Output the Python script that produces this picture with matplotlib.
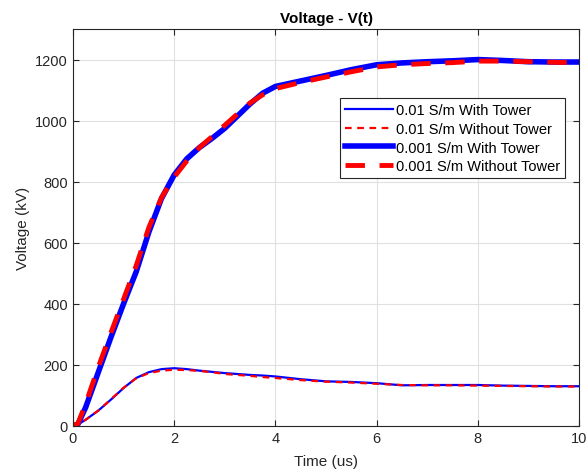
import matplotlib
matplotlib.use('Agg')
import matplotlib.pyplot as plt

plt.rcParams['font.family'] = ['Liberation Sans', 'DejaVu Sans']

# time axis (us)
t = [0, 0.1, 0.25, 0.5, 0.75, 1.0, 1.25, 1.5, 1.75, 2.0, 2.25, 2.5, 2.75, 3.0, 3.25,
     3.5, 3.75, 4.0, 4.5, 5.0, 5.5, 6.0, 6.5, 7.0, 7.5, 8.0, 8.5, 9.0, 9.5, 10.0]

# 0.01 S/m
v_01_with = [0, 5, 20, 50, 86, 124, 157, 176, 186, 189, 186, 181, 177, 173, 170,
             167, 165, 162, 153, 146, 144, 140, 133, 134, 134, 134, 132, 131, 130, 130]
v_01_without = [0, 5, 20, 50, 87, 125, 156, 173, 181, 184, 183, 180, 176, 170, 167,
                164, 160, 157, 150, 145, 142, 138, 134, 133, 133, 132, 131, 130, 129, 129]

# 0.001 S/m
v_001_with = [0, 6, 60, 175, 290, 400, 505, 635, 745, 822, 875, 912, 942, 975, 1015,
              1055, 1090, 1112, 1130, 1148, 1167, 1183, 1189, 1193, 1196, 1200, 1197, 1193, 1192, 1192]
v_001_without = [0, 8, 72, 192, 305, 415, 525, 650, 748, 815, 868, 912, 948, 985, 1022,
                 1058, 1085, 1105, 1125, 1143, 1160, 1176, 1183, 1187, 1190, 1195, 1195, 1193, 1191, 1190]

fig = plt.figure(figsize=(5.88, 4.77), dpi=100)
ax = fig.add_axes([0.124, 0.105, 0.861, 0.832])

ax.plot(t, v_01_with, color='#0000ff', lw=1.6, label='0.01 S/m With Tower')
ax.plot(t, v_01_without, color='#ff0000', lw=1.6, ls=(0, (3, 2.5)), label='0.01 S/m Without Tower')
ax.plot(t, v_001_with, color='#0000ff', lw=4.0, solid_joinstyle='round', label='0.001 S/m With Tower')
ax.plot(t, v_001_without, color='#ff0000', lw=3.5, ls=(0, (4, 3)), label='0.001 S/m Without Tower')

ax.set_xlim(0, 10)
ax.set_ylim(0, 1300)
ax.set_xticks([0, 2, 4, 6, 8, 10])
ax.set_yticks([0, 200, 400, 600, 800, 1000, 1200])
ax.tick_params(direction='in', top=True, right=True, labelsize=10.5, colors='#262626', length=4)
for s in ax.spines.values():
    s.set_color('#262626')
    s.set_linewidth(0.8)
ax.grid(color='#e0e0e0', lw=0.8)
ax.set_axisbelow(True)

ax.set_title('Voltage - V(t)', fontsize=11, fontweight='bold', pad=5)
ax.set_xlabel('Time (us)', fontsize=11, color='#262626', labelpad=7)
ax.set_ylabel('Voltage (kV)', fontsize=11, color='#262626')

leg = ax.legend(loc='upper right', bbox_to_anchor=(0.972, 0.826), borderaxespad=0,
                fontsize=10.5, fancybox=False, edgecolor='#262626', framealpha=1,
                handlelength=3.3, handletextpad=0.2, borderpad=0.35, labelspacing=0.32)
leg.get_frame().set_linewidth(0.8)

fig.savefig('out.png', dpi=100)
